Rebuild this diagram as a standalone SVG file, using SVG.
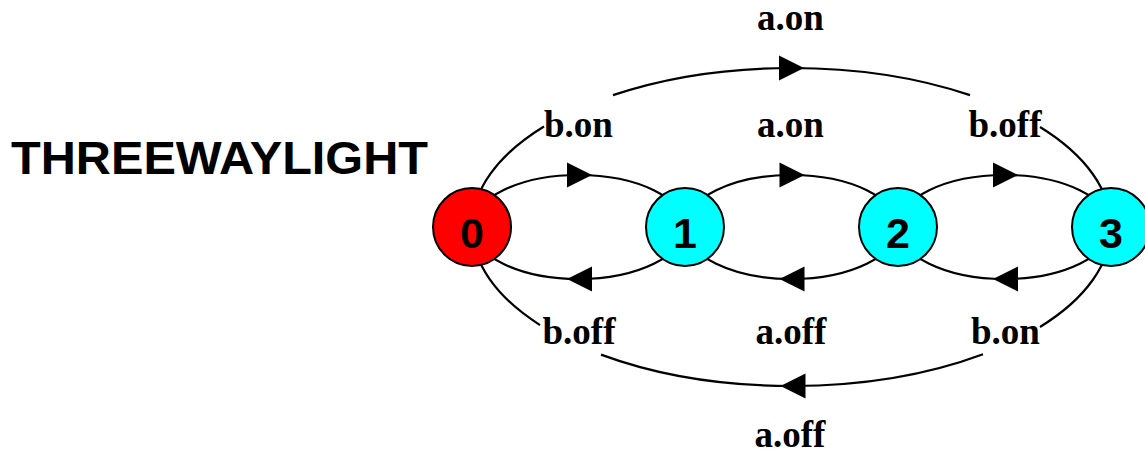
<svg xmlns="http://www.w3.org/2000/svg" width="1145" height="455" viewBox="0 0 1145 455">
<style>
.edge{fill:none;stroke:#000;stroke-width:2.2}
.node{stroke:#000;stroke-width:2}
.num{font-family:"Liberation Sans",Arial,sans-serif;font-weight:bold;font-size:43px;text-anchor:middle;fill:#000}
.lbl{font-family:"Liberation Serif","Times New Roman",serif;font-weight:bold;font-size:37px;text-anchor:middle;fill:#000}
.title{font-family:"Liberation Sans",Arial,sans-serif;font-weight:bold;font-size:47px;fill:#000}
</style>
<defs>
<polygon id="arrR" points="-12.5,-12.5 12.5,0 -12.5,12.5" fill="#000"/>
<polygon id="arrL" points="12.5,-12.5 -12.5,0 12.5,12.5" fill="#000"/>
</defs>
<rect width="1145" height="455" fill="#fff"/>
<text class="title" x="11" y="174" textLength="417" lengthAdjust="spacingAndGlyphs">THREEWAYLIGHT</text>
<g id="connectors">
<path class="edge" d="M472,227 A106.5,52 0 0 1 685,227"/>
<path class="edge" d="M685,227 A106.5,52 0 0 1 898,227"/>
<path class="edge" d="M898,227 A106.5,52 0 0 1 1111,227"/>
<path class="edge" d="M685,227 A106.5,52 0 0 1 472,227"/>
<path class="edge" d="M898,227 A106.5,52 0 0 1 685,227"/>
<path class="edge" d="M1111,227 A106.5,52 0 0 1 898,227"/>
<path class="edge" d="M472,227 A319.5,159 0 0 1 544,126.45"/>
<path class="edge" d="M613,95.13 A319.5,159 0 0 1 970,95.13"/>
<path class="edge" d="M1040,127.06 A319.5,159 0 0 1 1111,227"/>
<path class="edge" d="M1111,227 A319.5,159 0 0 1 1040,326.94"/>
<path class="edge" d="M983,354.27 A319.5,159 0 0 1 601,354.65"/>
<path class="edge" d="M540,325.06 A319.5,159 0 0 1 472,227"/>
<use href="#arrR" x="579.5" y="175"/>
<use href="#arrR" x="792" y="175"/>
<use href="#arrR" x="1005.5" y="175"/>
<use href="#arrL" x="579.5" y="279"/>
<use href="#arrL" x="792" y="279"/>
<use href="#arrL" x="1005.5" y="279"/>
<use href="#arrR" x="791.5" y="68"/>
<use href="#arrL" x="793" y="386"/>
<text class="lbl" x="790.5" y="30">a.on</text>
<text class="lbl" x="578.5" y="137">b.on</text>
<text class="lbl" x="790.5" y="137">a.on</text>
<text class="lbl" x="1005" y="137">b.off</text>
<text class="lbl" x="579" y="344">b.off</text>
<text class="lbl" x="791" y="344">a.off</text>
<text class="lbl" x="1005.5" y="343.5">b.on</text>
<text class="lbl" x="790" y="447">a.off</text>
</g>
<g id="node0"><circle class="node" cx="472" cy="227" r="39" fill="#ff0000"/><text class="num" x="472" y="248">0</text></g>
<g id="node1"><circle class="node" cx="685" cy="227" r="39" fill="#00ffff"/><text class="num" x="685" y="248">1</text></g>
<g id="node2"><circle class="node" cx="898" cy="227" r="39" fill="#00ffff"/><text class="num" x="898" y="248">2</text></g>
<g id="node3"><circle class="node" cx="1111" cy="227" r="39" fill="#00ffff"/><text class="num" x="1111" y="248">3</text></g>
</svg>
